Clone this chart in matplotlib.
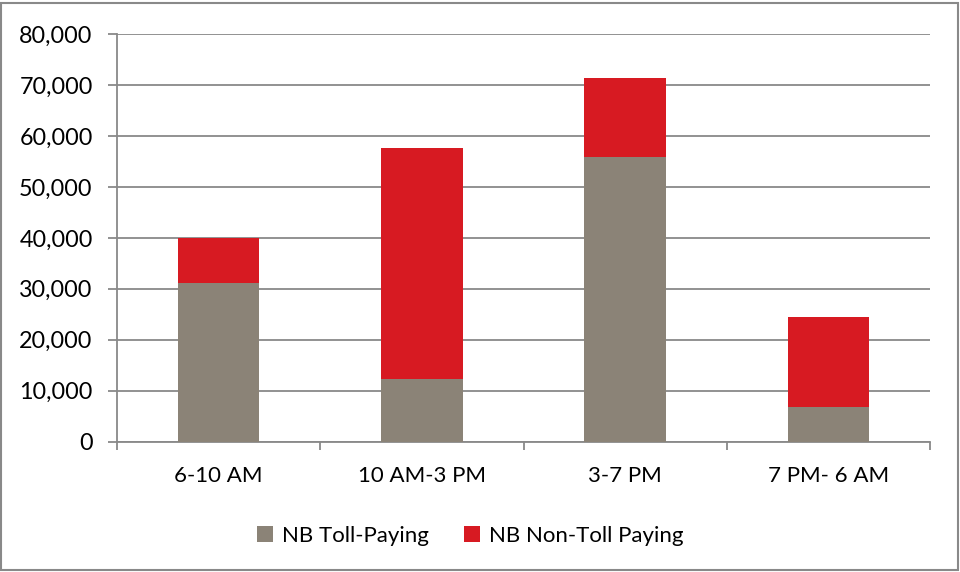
import matplotlib
matplotlib.use("Agg")
import matplotlib.pyplot as plt
from matplotlib.patches import Rectangle
from matplotlib.ticker import FuncFormatter, FixedLocator
import numpy as np

# northbound volumes by time period
periods = ["6-10 AM", "10 AM-3 PM", "3-7 PM", "7 PM- 6 AM"]
toll_paying = [31100, 12200, 55900, 6700]
non_toll_paying = [8800, 45400, 15500, 17800]

grey = "#8b8377"
red = "#d71a22"
line_col = "#898989"

plt.rcParams["font.family"] = ["Lato", "DejaVu Sans"]
plt.rcParams["text.color"] = "#000000"

fig = plt.figure(figsize=(9.6, 5.72), dpi=100)
ax = fig.add_axes([117 / 960, 1 - 441.5 / 572, 813 / 960, 407.2 / 572])

x = np.arange(len(periods))
ax.bar(x, toll_paying, width=0.4, color=grey, label="NB Toll-Paying", zorder=3)
ax.bar(x, non_toll_paying, width=0.4, bottom=toll_paying, color=red,
       label="NB Non-Toll Paying", zorder=3)

ax.set_xlim(-0.5, 3.5)
ax.set_ylim(0, 80000)
ax.set_yticks(np.arange(0, 80001, 10000))
ax.yaxis.set_major_formatter(FuncFormatter(lambda v, p: f"{int(v):,}"))
ax.grid(axis="y", color=line_col, linewidth=1.3, zorder=0)

# category labels centred, tick marks on the boundaries
ax.set_xticks(x)
ax.set_xticklabels(periods)
ax.xaxis.set_minor_locator(FixedLocator(np.arange(-0.5, 3.6, 1)))
ax.tick_params(axis="x", which="major", length=0, pad=18, labelsize=16, labelcolor="black")
ax.tick_params(axis="x", which="minor", length=6, width=1.3, color=line_col)
ax.tick_params(axis="y", length=6.5, width=1.3, color=line_col, pad=11,
               labelsize=16.8, labelcolor="black")

for s in ["top", "right"]:
    ax.spines[s].set_visible(False)
for s in ["left", "bottom"]:
    ax.spines[s].set_color(line_col)
    ax.spines[s].set_linewidth(1.3)

fig.legend(loc="center", bbox_to_anchor=(0.49, 1 - 536 / 572), ncol=2, frameon=False,
           fontsize=16, handlelength=0.7, handleheight=0.7, handletextpad=0.4,
           columnspacing=1.6)

# outer chart border
fig.patches.append(Rectangle((0.0015, 0.003), 0.996, 0.992, transform=fig.transFigure,
                             fill=False, edgecolor=line_col, linewidth=1.5))

fig.savefig("out.png", dpi=100)
